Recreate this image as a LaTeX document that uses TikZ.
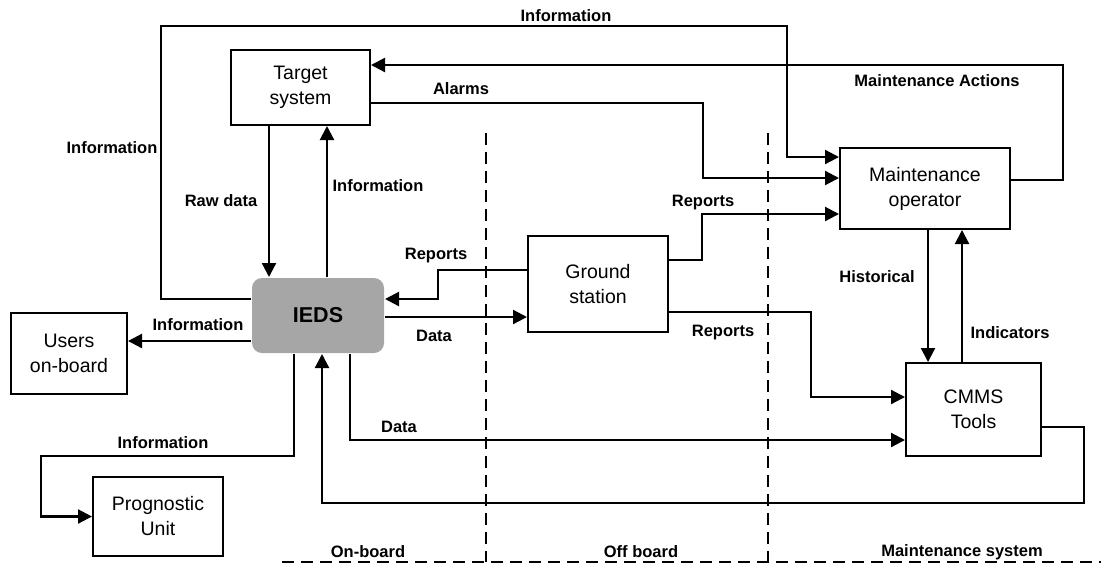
\documentclass[tikz,border=0pt]{standalone}
\usepackage{fontspec}
\setmainfont{Liberation Sans}
\usepackage{tikz}
\usetikzlibrary{positioning, shapes, arrows.meta, calc}

\definecolor{iedsgray}{RGB}{166,166,166}

\begin{document}
\begin{tikzpicture}[
    x=0.5pt, y=-0.5pt,
    line width=1pt,
    arrow/.style={
        -{Triangle[length=7pt, width=7pt]},
        line width=1.1pt
    },
    unit/.style={
        rectangle,
        draw,
        line width=1pt,
        align=center,
        inner sep=0pt,
        font=\fontsize{9.75}{12.5}\selectfont
    },
    core/.style={
        rectangle,
        fill=iedsgray,
        rounded corners=5pt,
        inner sep=0pt,
        font=\fontsize{10.75}{13}\selectfont\bfseries
    },
    lbl/.style={
        inner sep=0pt,
        font=\fontsize{8.25}{10}\selectfont\bfseries
    },
    zone/.style={
        dash pattern=on 6pt off 3.5pt,
        line width=0.75pt
    }
]

    \useasboundingbox (0,0) rectangle (1101,564);

    % Boxes
    \node[unit, minimum width=69.5pt, minimum height=37.5pt] (target) at (300.5,87.5) {Target\\system};
    \node[core, minimum width=66pt, minimum height=37.5pt] (ieds) at (318,315.5) {IEDS};
    \node[unit, minimum width=58pt, minimum height=40.5pt] (users) at (69,353.5) {Users\\on-board};
    \node[unit, minimum width=65pt, minimum height=39.5pt] (prog) at (158,516.5) {Prognostic\\Unit};
    \node[unit, minimum width=70pt, minimum height=48pt] (ground) at (598,284) {Ground\\station};
    \node[unit, minimum width=85pt, minimum height=40.5pt] (maint) at (925,188.5) {Maintenance\\operator};
    \node[unit, minimum width=67.5pt, minimum height=46.5pt] (cmms) at (973.5,409.5) {CMMS\\Tools};

    % Zones
    \draw[zone] (486,133) -- (486,562);
    \draw[zone] (768,133) -- (768,562);
    \draw[zone] (282,562) -- (1101,562);
    \node[lbl] (onboard) at (368,552) {On-board};
    \node[lbl] (offboard) at (641,552) {Off board};
    \node[lbl] (maintsys) at (962,552) {Maintenance system};

    % Target system <-> IEDS
    \draw[arrow] ($(target.south)+(-31.5,0)$) -- ($(ieds.north)+(-49,0)$);
    \node[lbl] (lraw) at (221,201) {Raw data};
    \draw[arrow] ($(ieds.north)+(9,0)$) -- ($(target.south)+(26.5,0)$);
    \node[lbl] (linfoup) at (378,186) {Information};

    % Outer loop to the operator
    \draw[arrow] ($(ieds.west)+(0,-16.5)$) -| ($(target.north west)+(-69,-23)$) -| ($(maint.west)+(-52,-31.5)$) -- ($(maint.west)+(0,-31.5)$);
    \node[lbl] (linfoleft) at (112,148) {Information};
    \node[lbl] (linfotop) at (566,16) {Information};

    % Operator back to target
    \draw[arrow] ($(maint.east)+(0,-8.5)$) -| ($(maint.east)+(52,-123.5)$) -- ($(target.east)+(0,-22.5)$);
    \node[lbl] (lactions) at (937,81) {Maintenance Actions};

    \draw[arrow] ($(target.east)+(0,15.5)$) -| ($(maint.west)+(-136,-10.5)$) -- ($(maint.west)+(0,-10.5)$);
    \node[lbl] (lalarms) at (461,89) {Alarms};

    % IEDS <-> ground station
    \draw[arrow] ($(ground.west)+(0,-14)$) -| ($(ieds.east)+(53,-16.5)$) -- ($(ieds.east)+(0,-16.5)$);
    \node[lbl] (lrepleft) at (436,256) {Reports};
    \draw[arrow] ($(ieds.east)+(0,1.5)$) -- ($(ground.west)+(0,33)$);
    \node[lbl] (ldata) at (434,336) {Data};

    % Ground station to maintenance side
    \draw[arrow] ($(ground.east)+(0,-24)$) -| ($(maint.west)+(-137,25.5)$) -- ($(maint.west)+(0,25.5)$);
    \node[lbl] (lrepup) at (703,203) {Reports};
    \draw[arrow] ($(ground.east)+(0,28)$) -| ($(cmms.west)+(-94,-12.5)$) -- ($(cmms.west)+(0,-12.5)$);
    \node[lbl] (lrepdown) at (723,333) {Reports};

    % Operator <-> CMMS
    \draw[arrow] ($(maint.south)+(3,0)$) -- ($(cmms.north)+(-45.5,0)$);
    \node[lbl] (lhist) at (877,277) {Historical};
    \draw[arrow] ($(cmms.north)+(-11.5,0)$) -- ($(maint.south)+(37,0)$);
    \node[lbl] (lind) at (1010,333) {Indicators};

    % IEDS <-> CMMS
    \draw[arrow] ($(ieds.south)+(32,0)$) |- ($(cmms.west)+(0,30.5)$);
    \node[lbl] (ldatalow) at (399,427) {Data};
    \draw[arrow] ($(cmms.east)+(0,17.5)$) -| ($(cmms.east)+(42,93.5)$) -| ($(ieds.south)+(4,0)$);

    % On-board outputs
    \draw[arrow] ($(ieds.west)+(0,25.5)$) -- ($(users.east)+(0,-12.5)$);
    \node[lbl] (linfousers) at (198,325) {Information};
    \draw[arrow] ($(ieds.south)+(-24,0)$) |- ($(prog.west)+(-51,-60.5)$) |- (prog.west);
    \node[lbl] (linfoprog) at (163,443) {Information};

\end{tikzpicture}
\end{document}
